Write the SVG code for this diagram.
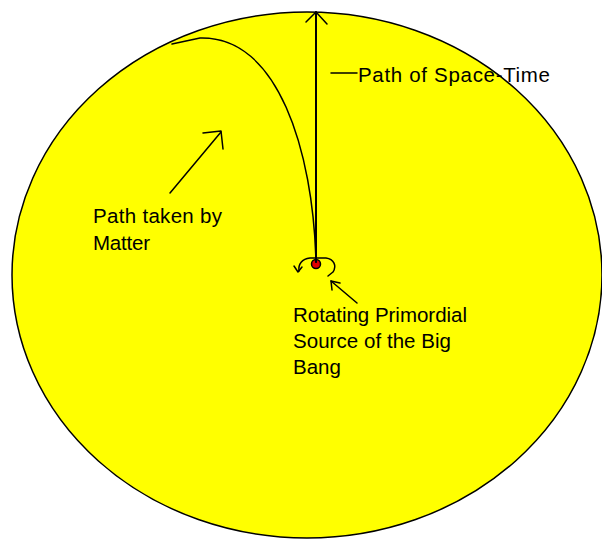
<svg xmlns="http://www.w3.org/2000/svg" width="602" height="539" viewBox="0 0 602 539">
<style>
.ln{fill:none;stroke:#000;stroke-width:1.5;stroke-linecap:round;stroke-linejoin:round}
.tx{font-family:"Liberation Sans",Arial,sans-serif;font-size:20.5px;fill:#000}
</style>
<rect width="602" height="539" fill="#fff"/>
<g id="universe">
<ellipse cx="307" cy="275" rx="295" ry="263" fill="#ffff00" stroke="#000" stroke-width="1.5"/>
</g>
<g id="source">
<circle cx="316" cy="264" r="4.5" fill="#e00000" stroke="#000" stroke-width="1.5"/>
<path class="ln" d="M299,271 C298,264 302,259 310,258 L326,258 C334,259 337,266 333,272 L328,276"/>
<path class="ln" d="M294,266 L298,272 L302,267"/>
</g>
<g id="connectors">
<path class="ln" d="M316,262 L316,12" style="stroke-width:2"/>
<path class="ln" d="M306,22 L316,12 L327,24"/>
<path class="ln" d="M316,262 C313,150 278,36 200,38 L172,44"/>
<path class="ln" d="M170,193 L221,132"/>
<path class="ln" d="M203,133 L221,131 L223,149"/>
<path class="ln" d="M357,303 L331,281"/>
<path class="ln" d="M331,281 L340,283 M331,281 L332,290"/>
<path class="ln" d="M331,73 L357,73"/>
</g>
<g id="labels">
<text class="tx" x="358" y="82" textLength="192" lengthAdjust="spacing">Path of Space-Time</text>
<text class="tx" x="93" y="223" textLength="129" lengthAdjust="spacing">Path taken by</text>
<text class="tx" x="93" y="250" textLength="57" lengthAdjust="spacing">Matter</text>
<text class="tx" x="293" y="322" textLength="174" lengthAdjust="spacing">Rotating Primordial</text>
<text class="tx" x="293" y="348" textLength="158" lengthAdjust="spacing">Source of the Big</text>
<text class="tx" x="293" y="374">Bang</text>
</g>
</svg>
